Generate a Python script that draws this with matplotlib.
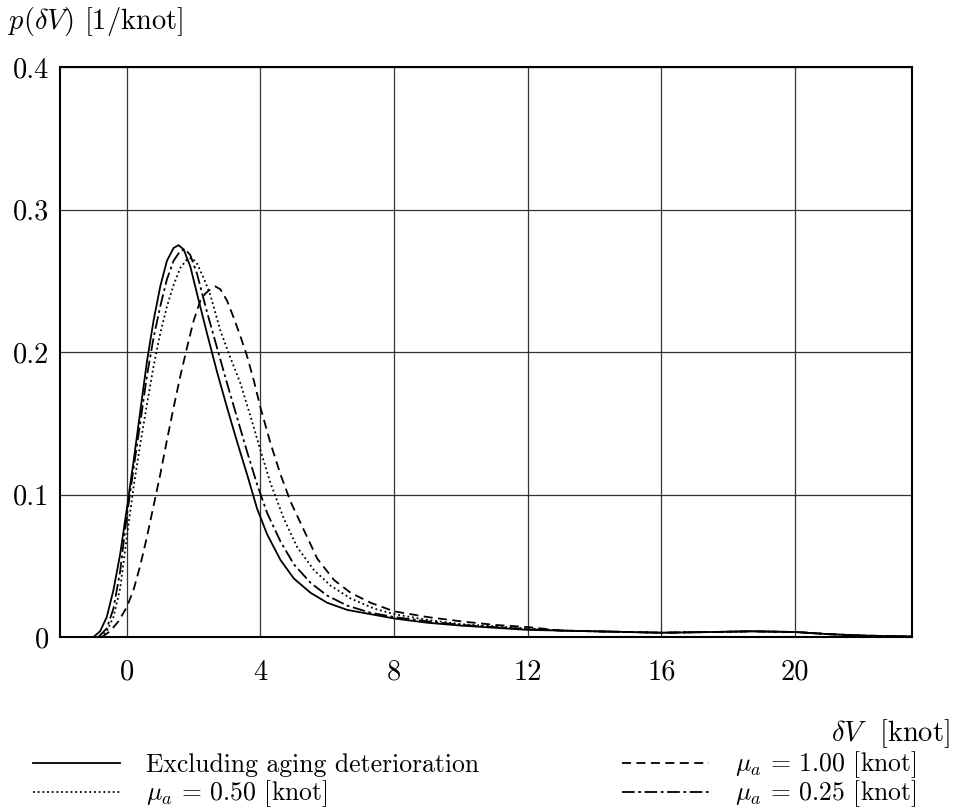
import numpy as np
import matplotlib.pyplot as plt

plt.rcParams['font.family'] = ['cmr10', 'DejaVu Serif']
plt.rcParams['mathtext.fontset'] = 'cm'
plt.rcParams['axes.unicode_minus'] = False

# curve data
tail_x = [13.0, 14.0, 16.0, 17.5, 18.7, 20.0, 21.0, 22.0, 23.5]
tail_y = [0.0045, 0.004, 0.003, 0.0035, 0.004, 0.0035, 0.002, 0.001, 0.0003]

x_excl = [-1.0, -0.8, -0.6, -0.4, -0.2, 0.0, 0.2, 0.4, 0.6, 0.8, 1.0, 1.2, 1.4, 1.55, 1.7, 1.9, 2.1,
          2.4, 2.7, 3.0, 3.3, 3.6, 3.9, 4.2, 4.6, 5.0, 5.5, 6.0, 6.6, 7.3, 8.0, 9.0, 10.0, 11.0, 12.0] + tail_x
y_excl = [0.0, 0.004, 0.014, 0.033, 0.058, 0.090, 0.123, 0.158, 0.193, 0.222, 0.246, 0.264, 0.273, 0.275,
          0.272, 0.260, 0.241, 0.213, 0.186, 0.161, 0.137, 0.114, 0.090, 0.072, 0.054, 0.041, 0.031, 0.024,
          0.019, 0.016, 0.013, 0.010, 0.008, 0.0065, 0.005] + tail_y

x_025 = [-0.85, -0.6, -0.4, -0.2, 0.0, 0.2, 0.4, 0.6, 0.8, 1.0, 1.2, 1.4, 1.6, 1.75, 1.9, 2.1, 2.4, 2.7,
         3.0, 3.3, 3.6, 3.9, 4.2, 4.6, 5.0, 5.5, 6.0, 6.6, 7.3, 8.0, 9.0, 10.0, 11.0, 12.0] + tail_x
y_025 = [0.0, 0.006, 0.020, 0.046, 0.085, 0.118, 0.150, 0.183, 0.210, 0.232, 0.251, 0.264, 0.271, 0.272,
         0.268, 0.255, 0.228, 0.203, 0.178, 0.154, 0.130, 0.107, 0.087, 0.067, 0.051, 0.038, 0.029, 0.022,
         0.017, 0.014, 0.011, 0.0085, 0.007, 0.0055] + tail_y

x_050 = [-0.8, -0.6, -0.4, -0.2, 0.0, 0.2, 0.4, 0.6, 0.8, 1.0, 1.2, 1.4, 1.6, 1.8, 1.95, 2.1, 2.3, 2.5,
         2.8, 3.1, 3.4, 3.7, 4.0, 4.3, 4.7, 5.1, 5.6, 6.1, 6.7, 7.4, 8.0, 9.0, 10.0, 11.0, 12.0] + tail_x
y_050 = [0.0, 0.004, 0.014, 0.034, 0.070, 0.105, 0.135, 0.163, 0.190, 0.213, 0.232, 0.247, 0.259, 0.265,
         0.266, 0.262, 0.252, 0.240, 0.215, 0.196, 0.178, 0.155, 0.131, 0.108, 0.083, 0.063, 0.047, 0.036,
         0.027, 0.020, 0.016, 0.012, 0.009, 0.0075, 0.006] + tail_y

x_100 = [-0.75, -0.5, -0.25, 0.0, 0.2, 0.4, 0.6, 0.8, 1.0, 1.2, 1.4, 1.6, 1.8, 2.0, 2.2, 2.35, 2.5, 2.65,
         2.8, 3.0, 3.2, 3.4, 3.6, 3.8, 4.0, 4.3, 4.6, 4.9, 5.3, 5.7, 6.2, 6.7, 7.3, 8.0, 9.0, 10.0, 11.0,
         12.0] + tail_x
y_100 = [0.0, 0.004, 0.011, 0.021, 0.033, 0.050, 0.070, 0.092, 0.114, 0.138, 0.161, 0.183, 0.203, 0.222,
         0.236, 0.241, 0.244, 0.246, 0.244, 0.236, 0.224, 0.211, 0.197, 0.180, 0.161, 0.136, 0.114, 0.095,
         0.075, 0.055, 0.040, 0.031, 0.024, 0.018, 0.014, 0.011, 0.0085, 0.007] + tail_y

labels = ['Excluding aging deterioration',
          r'$\mu_a$ = 0.50 [knot]',
          r'$\mu_a$ = 1.00 [knot]',
          r'$\mu_a$ = 0.25 [knot]']

xticks = [0, 4, 8, 12, 16, 20]
yticks = [0, 0.1, 0.2, 0.3, 0.4]
yticklabels = ['0', '0.1', '0.2', '0.3', '0.4']

fs = 20.5
fig = plt.figure(figsize=(9.57, 8.08), dpi=100)
ax = fig.add_axes([60/957, 1 - 637/808, 852/957, 570/808])

lw = 1.3
h1, = ax.plot(x_excl, y_excl, color='black', lw=lw, ls='-')
h2, = ax.plot(x_050, y_050, color='black', lw=lw, ls=(0, (1, 1.6)))
h3, = ax.plot(x_100, y_100, color='black', lw=lw, ls=(0, (5, 3)))
h4, = ax.plot(x_025, y_025, color='black', lw=lw, ls=(0, (7, 2, 1.5, 2)))

ax.set_xlim(-2, 23.5)
ax.set_ylim(0, 0.4)
ax.set_xticks(xticks)
ax.set_xticklabels([str(t) for t in xticks])
ax.set_yticks(yticks)
ax.set_yticklabels(yticklabels)
ax.tick_params(axis='x', length=0, labelsize=fs, pad=16)
ax.tick_params(axis='y', length=0, labelsize=fs, pad=8)
ax.grid(True, color='#333333', lw=0.9)
for s in ax.spines.values():
    s.set_linewidth(1.5)

fig.text(0.008, 1 - 22/808, r'$p(\delta V)$ [1/knot]', fontsize=fs, va='center', ha='left')
fig.text(950/957, 1 - 734/808, r'$\delta V$  [knot]', fontsize=fs, va='center', ha='right')

# legend: one entry per box so both columns line up row by row
spots = [(33, 765), (33, 794), (622, 765), (622, 794)]
for h, lab, (px, py) in zip([h1, h2, h3, h4], labels, spots):
    fig.legend([h], [lab], loc='center left', bbox_to_anchor=(px/957, 1 - py/808),
               frameon=False, fontsize=18.5, handlelength=3.4, handletextpad=1.0,
               borderpad=0.0, borderaxespad=0.0)

fig.savefig('out.png', dpi=100)
